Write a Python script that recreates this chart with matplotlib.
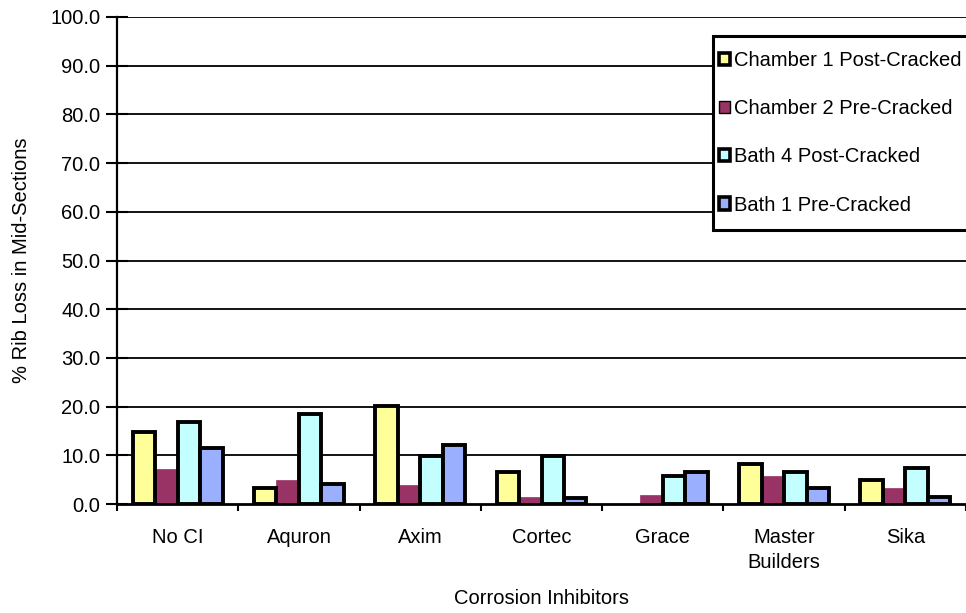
import numpy as np
import matplotlib.pyplot as plt
from matplotlib.patches import Patch, Rectangle

plt.rcParams['font.family'] = ['Liberation Sans', 'DejaVu Sans']

categories = ['No CI', 'Aquron', 'Axim', 'Cortec', 'Grace', 'Master\nBuilders', 'Sika']
chamber1_post = [14.8, 3.3, 20.1, 6.5, 0.0, 8.2, 4.9]
chamber2_pre = [7.2, 4.9, 4.0, 1.5, 1.9, 5.7, 3.2]
bath4_post = [16.8, 18.4, 9.8, 9.8, 5.8, 6.6, 7.4]
bath1_pre = [11.4, 4.1, 12.2, 1.3, 6.6, 3.2, 1.5]

labels = ['Chamber 1 Post-Cracked', 'Chamber 2 Pre-Cracked',
          'Bath 4 Post-Cracked', 'Bath 1 Pre-Cracked']
colors = ['#FFFF99', '#993366', '#C4FFFF', '#9AB0FF']
series = [chamber1_post, chamber2_pre, bath4_post, bath1_pre]

W, H = 966, 613
fig = plt.figure(figsize=(W/100, H/100), dpi=100)
ax = fig.add_axes([117/W, 1-504/H, (W-117)/W, (504-17)/H])

x = np.arange(len(categories))
w = 0.185
for i, (vals, col) in enumerate(zip(series, colors)):
    vals = np.array(vals)
    keep = vals > 0
    pos = (x + (i - 1.5) * w)[keep]
    if i == 1:
        ax.bar(pos, vals[keep], w, color=col, edgecolor=col, linewidth=0.5, zorder=3)
    else:
        ax.bar(pos, vals[keep], w, color=col, edgecolor='black', linewidth=2.8, zorder=4)

ax.set_xlim(-0.5, len(categories) - 0.5)
ax.set_ylim(0, 100)
ax.set_yticks(np.arange(0, 101, 10))
ax.set_yticklabels(['%.1f' % v for v in np.arange(0, 101, 10)], fontsize=14.5)
ax.set_xticks(x)
ax.set_xticklabels(categories, fontsize=14.5, linespacing=1.45)
ax.set_xticks(np.arange(-0.5, len(categories), 1), minor=True)
ax.tick_params(axis='x', which='major', length=0, pad=17)
ax.tick_params(axis='x', which='minor', length=5, width=1.5, direction='out')
ax.tick_params(axis='y', length=16, width=1.5, direction='inout', pad=4)

for v in np.arange(10, 101, 10):
    ax.axhline(v, color='black', linewidth=1.3, zorder=1)

for s in ['top', 'right']:
    ax.spines[s].set_visible(False)
ax.spines['left'].set_linewidth(1.6)
ax.spines['bottom'].set_linewidth(2)
ax.spines['bottom'].set_zorder(5)

ax.set_ylabel('% Rib Loss in Mid-Sections', fontsize=14.5, labelpad=14)
ax.set_xlabel('Corrosion Inhibitors', fontsize=14.5, labelpad=12)

# legend box drawn separately so it can run off the right edge like the original
fig.patches.append(Rectangle((713/W, 1-230/H), 262/W, 194/H, transform=fig.transFigure,
                             facecolor='white', edgecolor='black', linewidth=2.2, zorder=5))

handles = []
for i, col in enumerate(colors):
    handles.append(Patch(facecolor=col, edgecolor='black', linewidth=1 if i == 1 else 2.6))
leg = fig.legend(handles, labels, loc='upper left', bbox_to_anchor=(719/W, 1-51/H),
                 fontsize=14.5, frameon=False, labelspacing=1.45,
                 handlelength=0.55, handleheight=0.55, handletextpad=0.2,
                 borderpad=0, borderaxespad=0)
leg.set_zorder(6)

fig.savefig('out.png', dpi=100)
